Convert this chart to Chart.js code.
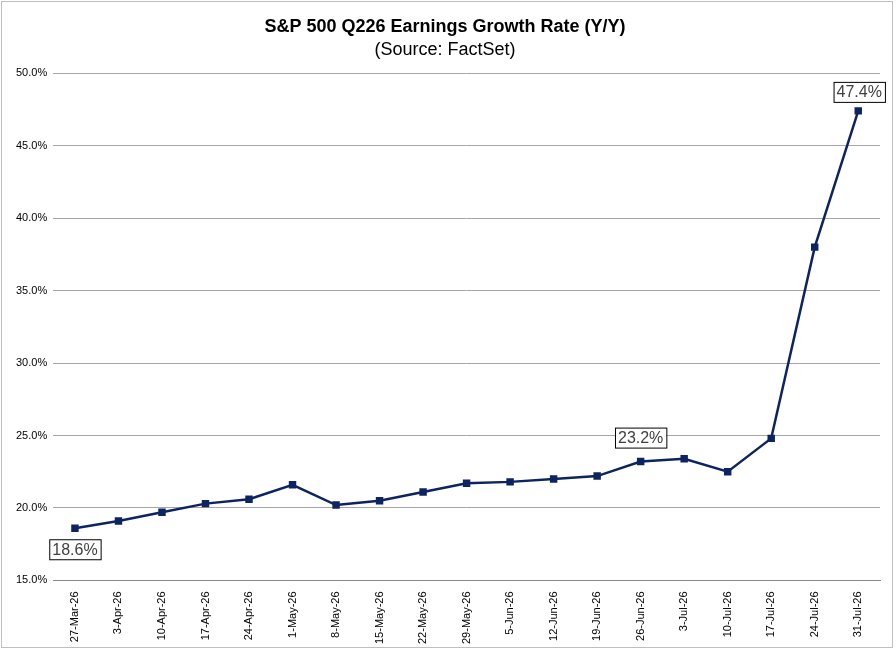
<!DOCTYPE html>
<html><head><script src="https://cdn.jsdelivr.net/npm/chart.js@4"></script>
<style>body{margin:0;background:#fff}#w{position:absolute;left:1px;top:1px;width:892px;height:647px;border:1px solid #bfbfbf;box-sizing:border-box}</style></head>
<body><div id="w"><canvas id="c"></canvas></div>
<script>
const categories=['27-Mar-26','3-Apr-26','10-Apr-26','17-Apr-26','24-Apr-26','1-May-26','8-May-26','15-May-26','22-May-26','29-May-26','5-Jun-26','12-Jun-26','19-Jun-26','26-Jun-26','3-Jul-26','10-Jul-26','17-Jul-26','24-Jul-26','31-Jul-26'];
const growth=[18.6,19.1,19.7,20.3,20.6,21.6,20.2,20.5,21.1,21.7,21.8,22.0,22.2,23.2,23.4,22.5,24.8,38.0,47.4];
const labeled=[0,13,18];
const boxLabels={id:'bl',afterDatasetsDraw(ch){const ctx=ch.ctx;const m=ch.getDatasetMeta(0);ctx.save();ctx.font='16px Arial';ctx.textAlign='center';ctx.textBaseline='middle';
labeled.forEach(i=>{const p=m.data[i];const t=growth[i].toFixed(1)+'%';const w=ctx.measureText(t).width+6;let x=p.x,y=p.y-24;if(i===0){y=p.y+21;}if(i===18){x=p.x+1;y=p.y-19;}
ctx.fillStyle='#fff';ctx.fillRect(x-w/2,y-10,w,20);ctx.strokeStyle='#000';ctx.lineWidth=1;ctx.strokeRect(x-w/2+0.5,y-10+0.5,w,20);ctx.fillStyle='#404040';ctx.fillText(t,x,y+1);});ctx.restore();}};
new Chart(document.getElementById('c'),{type:'line',data:{labels:categories,datasets:[{data:growth,borderColor:'#0c2461',backgroundColor:'#0c2461',borderWidth:2.5,pointStyle:'rect',pointRadius:3.5,tension:0}]},
options:{responsive:true,maintainAspectRatio:false,animation:false,layout:{padding:{left:8,right:12,bottom:0,top:4}},
plugins:{legend:{display:false},tooltip:{enabled:false},title:{display:true,text:'S&P 500 Q226 Earnings Growth Rate (Y/Y)',font:{family:'Arial',size:18,weight:'bold'},color:'#000',padding:{top:10,bottom:0}},
subtitle:{display:true,text:'(Source: FactSet)',font:{family:'Arial',size:18},color:'#000',padding:{top:2,bottom:12}}},
scales:{x:{offset:true,grid:{display:false},border:{color:'#888'},ticks:{padding:3,minRotation:90,maxRotation:90,font:{family:'Arial',size:11},color:'#000'}},
y:{min:15,max:50,ticks:{padding:6,stepSize:5,callback:v=>v.toFixed(1)+'%',font:{family:'Arial',size:11},color:'#000'},grid:{color:'#a6a6a6',drawTicks:false},border:{display:false}}}},plugins:[boxLabels]});
</script></body></html>
